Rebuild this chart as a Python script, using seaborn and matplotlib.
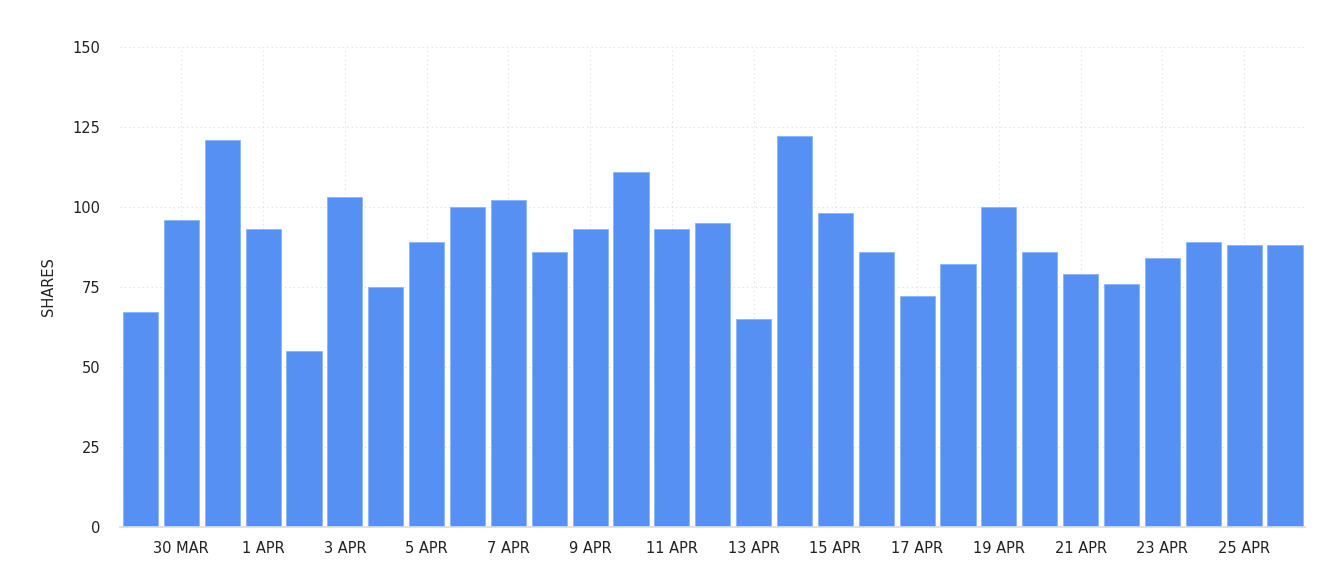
import pandas as pd
import seaborn as sns
import matplotlib.pyplot as plt

dates = ["29 MAR", "30 MAR", "31 MAR"] + [f"{d} APR" for d in range(1, 27)]
shares = [67, 96, 121, 93, 55, 103, 75, 89, 100, 102, 86, 93, 111, 93, 95,
          65, 122, 98, 86, 72, 82, 100, 86, 79, 76, 84, 89, 88, 88]

df = pd.DataFrame({"date": dates, "shares": shares})

sns.set_theme(style="white")
plt.rcParams["font.family"] = ["DejaVu Sans"]

fig = plt.figure(figsize=(13.44, 5.8), dpi=100)
ax = fig.add_axes([0.0893, 0.0914, 0.882, 0.828])
sns.barplot(x="date", y="shares", data=df, color="#5590F2", saturation=1,
            width=0.86, edgecolor="#8cb4f5", linewidth=0.6, ax=ax)

ax.set_ylim(0, 150)
ax.set_yticks([0, 25, 50, 75, 100, 125, 150])
ax.set_xlim(-0.5, len(dates) - 0.5)
tick_pos = list(range(1, len(dates), 2))
ax.set_xticks(tick_pos)
ax.set_xticklabels([dates[i] for i in tick_pos])
ax.tick_params(axis="both", labelsize=10.5, colors="#222222", length=0)
ax.tick_params(axis="x", length=4, color="#dddddd", pad=6)
ax.tick_params(axis="y", pad=14)
ax.set_xlabel("")
ax.set_ylabel("SHARES", fontsize=10.5, color="#222222", labelpad=12)

ax.grid(True, axis="both", linestyle=(0, (1, 3)), color="#dddddd", linewidth=0.8)
ax.set_axisbelow(True)
for s in ["top", "right", "left"]:
    ax.spines[s].set_visible(False)
ax.spines["bottom"].set_color("#dddddd")

fig.savefig("out.png", dpi=100)
plt.close(fig)
